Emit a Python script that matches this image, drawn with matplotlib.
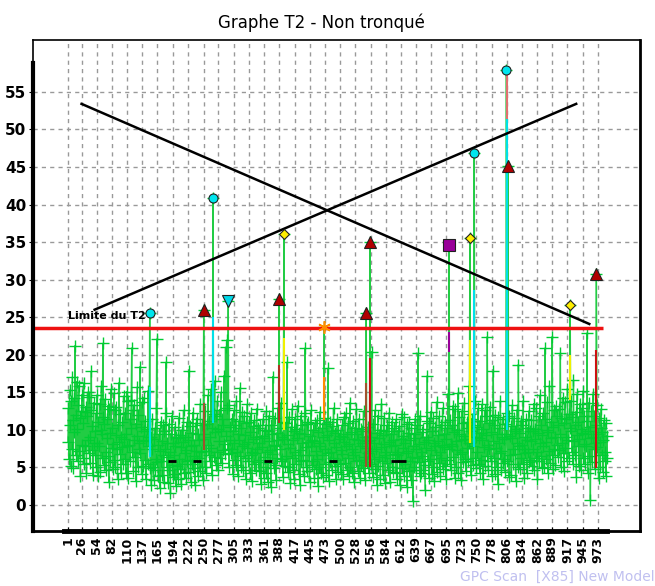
import numpy as np
from matplotlib import pyplot as plt
from matplotlib import font_manager

t2_values = [
    8.4, 12.9, 6.1, 15.3, 10.6, 5.2, 13.8, 7.5, 17.0, 11.3, 4.9, 14.2, 9.7, 21.2, 12.0, 6.6, 16.4, 10.1, 5.8, 13.3, 15.9, 7.2, 11.6, 3.8, 12.5, 8.0, 14.7, 6.3, 10.9, 16.2, 5.5, 12.4, 7.9, 13.1, 4.2, 11.8, 15.0, 8.6, 6.9, 14.4, 9.1, 5.6, 12.7, 17.8, 7.3, 10.5, 4.0, 13.6, 8.2, 9.9,
    6.7, 12.2, 5.0, 14.6, 8.3, 3.9, 11.1, 7.8, 13.5, 4.4, 10.0, 15.8, 6.2, 9.4, 21.5, 11.7, 5.3, 10.8, 14.1, 7.0, 4.6, 11.4, 8.9, 13.2, 6.5, 3.1, 12.8, 9.6, 5.7, 15.4, 7.6, 10.3, 4.8, 8.1, 14.9, 6.0, 12.6, 5.1, 9.3, 13.0, 7.4, 3.5, 10.7, 8.4, 16.3, 6.8, 12.1, 4.3, 9.0, 7.7,
    11.0, 5.4, 14.5, 8.8, 6.1, 12.3, 4.2, 9.5, 15.1, 7.9, 3.6, 13.9, 8.0, 11.4, 5.9, 10.2, 14.0, 20.9, 7.1, 12.6, 4.5, 8.7, 13.3, 6.4, 10.8, 3.2, 9.2, 15.7, 5.0, 12.0, 7.5, 8.3, 18.4, 6.9, 10.4, 4.1, 13.7, 8.5, 5.2, 14.3, 9.8, 6.0, 11.2, 3.4, 8.6, 10.1, 5.5, 15.2, 7.8, 9.0,
    6.3, 4.9, 9.1, 2.6, 7.4, 11.5, 5.0, 3.3, 8.8, 10.2, 4.6, 6.1, 12.9, 22.1, 5.7, 8.0, 3.9, 9.4, 7.2, 2.3, 11.1, 5.8, 8.5, 4.0, 10.6, 6.7, 3.0, 9.9, 7.5, 12.2, 19.0, 5.1, 8.3, 2.9, 6.4, 10.8, 4.7, 7.0, 1.6, 9.5, 5.3, 11.9, 3.7, 8.2, 6.6, 4.1, 10.4, 7.9, 2.5, 9.0,
    5.2, 8.9, 3.4, 11.6, 6.1, 4.8, 9.3, 7.7, 2.8, 10.0, 5.5, 8.4, 12.6, 4.2, 6.9, 9.1, 3.6, 7.3, 11.0, 5.9, 8.7, 4.4, 17.9, 6.0, 10.5, 3.1, 7.8, 9.6, 5.4, 12.3, 4.9, 8.0, 6.5, 2.7, 10.9, 7.2, 5.8, 11.4, 3.9, 9.4, 6.3, 8.6, 4.5, 13.5, 7.0, 5.1, 10.7, 3.3, 8.8, 6.2,
    9.4, 5.1, 12.5, 7.2, 4.3, 10.8, 8.0, 14.6, 6.7, 11.2, 5.9, 9.0, 15.4, 7.6, 4.0, 10.3, 8.9, 12.1, 6.4, 16.5, 9.7, 5.3, 11.9, 7.0, 13.8, 4.6, 10.1, 8.5, 12.7, 6.2, 9.8, 15.0, 5.6, 11.4, 7.3, 10.6, 17.2, 8.1, 6.8, 21.0, 9.2, 12.9, 22.0, 7.5, 11.7, 5.0, 13.3, 8.7, 10.4, 6.9,
    11.5, 7.4, 9.9, 4.1, 12.6, 8.2, 6.0, 10.7, 5.3, 13.9, 7.1, 9.5, 3.8, 11.2, 8.6, 6.5, 15.6, 5.0, 10.3, 7.8, 12.4, 4.7, 8.1, 11.8, 6.2, 9.3, 3.5, 10.9, 7.6, 13.4, 5.8, 8.4, 11.0, 4.3, 9.7, 6.6, 12.2, 7.0, 3.2, 10.5, 8.8, 5.4, 11.3, 6.9, 9.1, 4.6, 12.8, 7.5, 10.2, 5.7,
    8.3, 4.5, 10.6, 6.0, 2.8, 9.2, 7.7, 11.4, 5.1, 3.6, 8.9, 10.0, 6.4, 4.2, 12.5, 7.1, 9.8, 3.0, 8.5, 11.9, 5.6, 7.3, 2.4, 10.7, 6.8, 9.4, 17.1, 4.9, 8.0, 11.6, 5.3, 7.9, 3.3, 9.6, 6.2, 12.9, 8.7, 4.0, 10.3, 7.5, 5.8, 13.6, 6.1, 9.0, 3.7, 11.1, 7.4, 8.8, 5.2, 10.9,
    6.5, 9.3, 19.0, 4.4, 8.1, 11.7, 5.0, 7.6, 2.9, 10.4, 6.3, 12.8, 8.6, 4.7, 9.9, 3.4, 11.5, 7.0, 5.5, 10.1, 8.9, 13.2, 6.7, 4.1, 9.6, 7.3, 2.6, 11.9, 5.8, 8.2, 10.6, 6.0, 3.9, 9.4, 12.3, 20.9, 7.7, 5.1, 10.8, 4.5, 8.4, 11.0, 6.6, 3.1, 9.2, 7.9, 12.6, 5.3, 8.7, 10.0,
    5.9, 8.5, 3.6, 10.9, 7.2, 4.8, 11.3, 6.1, 9.7, 2.5, 8.3, 5.0, 12.4, 7.8, 4.3, 10.2, 6.6, 9.1, 3.7, 11.6, 8.0, 5.4, 7.5, 10.8, 4.0, 9.3, 6.9, 18.2, 8.6, 3.2, 11.1, 5.7, 9.8, 7.1, 4.6, 10.5, 6.3, 12.9, 8.2, 5.2, 9.6, 3.4, 7.7, 11.4, 6.0, 4.4, 10.0, 8.8, 5.5, 9.2,
    7.3, 4.1, 10.6, 6.8, 9.0, 3.5, 11.7, 8.4, 5.6, 12.2, 7.9, 4.7, 9.5, 6.2, 10.9, 3.8, 8.1, 13.6, 5.0, 9.7, 7.4, 4.3, 11.2, 6.6, 8.8, 3.0, 10.3, 7.1, 5.9, 12.8, 9.4, 4.5, 8.6, 6.0, 11.5, 3.6, 7.8, 10.1, 5.3, 9.9, 8.2, 4.9, 12.5, 6.4, 9.1, 3.3, 7.6, 11.8, 5.7, 8.5,
    6.9, 10.4, 4.2, 8.7, 11.3, 5.5, 9.0, 20.4, 7.2, 3.7, 10.8, 6.1, 8.3, 12.6, 4.8, 7.5, 9.6, 2.7, 11.9, 5.2, 8.9, 6.4, 10.0, 3.4, 7.7, 13.5, 5.8, 9.3, 4.0, 8.1, 11.6, 6.7, 2.9, 9.8, 7.0, 5.6, 10.7, 4.6, 8.4, 12.3, 6.2, 3.1, 9.5, 7.9, 11.1, 5.0, 8.6, 4.4, 10.2, 6.8,
    8.0, 4.3, 11.4, 6.6, 3.5, 9.9, 7.1, 5.8, 10.5, 2.6, 8.8, 6.0, 12.1, 4.9, 7.6, 9.2, 3.9, 11.7, 5.4, 8.3, 6.9, 10.8, 2.4, 7.2, 9.6, 4.5, 11.0, 5.9, 8.6, 3.3, 10.3, 6.4, 7.8, 0.5, 9.4, 5.1, 8.9, 11.5, 4.7, 7.4, 10.6, 6.2, 20.2, 5.7, 8.1, 3.8, 11.9, 7.0, 4.2, 9.7,
    6.5, 10.1, 4.6, 8.4, 5.3, 2.0, 9.0, 7.6, 11.2, 17.2, 5.9, 8.7, 3.6, 10.9, 6.1, 12.4, 7.3, 4.1, 9.8, 5.0, 11.6, 8.2, 3.2, 7.9, 10.4, 6.7, 13.7, 4.4, 8.5, 9.3, 5.6, 11.8, 7.0, 3.9, 10.7, 6.3, 8.0, 12.9, 4.8, 9.5, 7.7, 5.2, 11.1, 3.5, 8.8, 10.2, 6.0, 14.8, 7.4, 9.1,
    5.4, 11.3, 8.1, 4.7, 10.6, 7.9, 13.2, 6.4, 9.7, 3.6, 12.8, 8.5, 5.1, 10.0, 7.3, 14.9, 4.2, 9.4, 11.7, 6.8, 8.6, 3.3, 12.5, 7.0, 10.9, 5.7, 9.2, 13.6, 6.1, 8.8, 4.5, 11.0, 7.6, 10.3, 5.9, 15.8, 8.2, 6.6, 12.1, 4.0, 9.9, 11.5, 7.8, 5.3, 10.7, 8.4, 13.9, 6.2, 9.0, 4.9,
    10.4, 7.1, 12.9, 5.5, 8.9, 11.2, 4.3, 9.6, 6.0, 13.4, 8.7, 3.4, 10.1, 7.7, 12.6, 5.2, 9.3, 11.8, 6.5, 22.4, 8.0, 4.6, 10.9, 7.4, 13.1, 5.8, 9.7, 3.9, 11.3, 8.5, 17.8, 6.2, 10.6, 4.1, 12.0, 7.6, 9.4, 5.0, 11.7, 2.8, 8.3, 10.2, 6.9, 13.8, 7.2, 4.7, 9.1, 11.5, 5.6, 8.8,
    6.1, 10.8, 4.4, 9.5, 7.0, 12.3, 5.9, 8.6, 11.9, 3.7, 9.2, 6.6, 10.5, 4.0, 8.9, 13.3, 7.4, 5.5, 11.6, 6.8, 9.9, 3.2, 10.1, 8.3, 12.7, 5.1, 18.7, 7.8, 9.6, 4.8, 11.2, 6.3, 8.0, 10.7, 5.4, 13.9, 7.5, 3.6, 9.0, 6.9, 11.4, 8.7, 4.2, 10.3, 7.1, 12.5, 5.7, 9.8, 6.0, 8.5,
    11.3, 5.2, 9.9, 7.4, 13.5, 4.6, 10.1, 8.8, 6.3, 12.9, 7.0, 3.5, 9.6, 11.8, 5.9, 8.2, 14.6, 6.5, 10.7, 4.9, 9.3, 12.2, 7.8, 5.0, 11.5, 20.9, 8.4, 6.1, 10.0, 13.7, 4.3, 9.7, 7.2, 15.9, 5.6, 11.1, 8.9, 6.7, 22.4, 10.4, 4.8, 12.6, 7.5, 9.1, 5.3, 13.2, 8.0, 11.9, 6.4, 10.6,
    7.3, 12.8, 9.5, 20.2, 5.1, 11.6, 8.2, 14.3, 6.9, 10.9, 4.5, 13.7, 7.6, 9.0, 11.4, 5.8, 15.5, 8.7, 6.2, 12.1, 10.3, 4.1, 9.8, 13.9, 7.0, 11.7, 5.4, 16.6, 8.5, 10.6, 6.7, 12.4, 3.7, 9.3, 14.8, 7.9, 11.0, 5.2, 8.8, 13.5, 10.1, 4.6, 9.6, 12.9, 6.3, 15.2, 8.1, 11.8, 5.5, 9.4,
    7.8, 11.2, 22.9, 4.3, 9.9, 13.6, 6.5, 10.4, 0.7, 8.9, 12.5, 5.7, 9.1, 14.8, 7.4, 11.9, 4.8, 8.2, 10.7, 6.0, 13.3, 7.7, 9.5, 3.6, 11.6, 8.4, 5.1, 10.2, 12.8, 6.6, 9.7, 4.4, 8.6, 11.3, 7.1, 5.9, 10.9, 3.9, 9.2, 6.3,
]

# points hors limite (indice, valeur, style)
out_idx = [151, 250, 267, 295, 388, 397, 471, 548, 555, 700, 738, 746, 805, 808, 922, 970]
out_val = [25.6, 26.0, 40.9, 27.2, 27.4, 36.1, 23.7, 25.6, 35.0, 34.6, 35.5, 46.9, 57.9, 45.1, 26.6, 30.7]
out_kind = ["rond", "tri", "rond", "trib", "tri", "los", "etoile", "tri", "tri", "carre", "los", "rond", "rond", "tri", "los", "tri"]

# segments colorés superposés (indice, bas, haut, couleur)
seg_idx = [151, 250, 267, 388, 397, 471, 548, 555, 700, 738, 746, 806, 806, 922, 970]
seg_lo = [6.4, 7.3, 10.9, 10.9, 10.0, 11.3, 5.0, 5.0, 20.4, 8.3, 7.7, 10.0, 51.4, 14.0, 4.9]
seg_hi = [15.7, 13.6, 25.0, 18.6, 22.2, 17.0, 16.2, 19.6, 23.0, 22.0, 28.6, 51.4, 57.5, 20.0, 20.6]
seg_col = ["#00e0e8", "#a0522d", "#00e0e8", "#b03020", "#f0f000", "#ff8c00", "#a0522d", "#cc1111",
           "#990099", "#f0f000", "#00e0e8", "#00e0e8", "#e07070", "#f0f000", "#cc1111"]

# petits traits noirs
black_idx = [191, 238, 368, 487, 601, 614]
black_val = [5.9, 5.9, 5.9, 5.9, 5.9, 5.9]

limit_t2 = 23.6
cross_a = ([26, 957], [53.4, 24.1])
cross_b = ([50, 933], [26.0, 53.4])

x_ticks = [1, 26, 54, 82, 110, 137, 165, 194, 222, 250, 277, 305, 333, 361, 388, 417, 445, 473,
           500, 528, 556, 584, 612, 639, 667, 695, 723, 750, 778, 806, 834, 862, 889, 917, 945, 973]
y_ticks = list(range(0, 60, 5))

styles = {
    "rond": dict(marker="o", ms=6.5, mfc="#00e5ee"),
    "tri": dict(marker="^", ms=8.5, mfc="#b00000"),
    "trib": dict(marker="v", ms=8.5, mfc="#00d8e8"),
    "los": dict(marker="D", ms=5.5, mfc="#ffee00"),
    "carre": dict(marker="s", ms=8, mfc="#990099"),
}

names = {f.name for f in font_manager.fontManager.ttflist}
narrow = "Liberation Sans Narrow" if "Liberation Sans Narrow" in names else "DejaVu Sans"


def main() -> None:
    t2 = np.array(t2_values, dtype=float)
    for i, v in zip(out_idx, out_val):
        t2[i - 1] = v
    x = np.arange(1, len(t2) + 1)

    fig = plt.figure(figsize=(6.55, 5.86), dpi=100)
    ax = fig.add_axes([0.0504, 0.0939, 0.9267, 0.8378])
    ax.set_xlim(-63, 1050)
    ax.set_ylim(-3.46, 61.9)

    ax.set_xticks(x_ticks)
    ax.set_xticklabels([str(t) for t in x_ticks], rotation=90, fontweight="bold", fontsize=9)
    ax.set_yticks(y_ticks)
    ax.set_yticklabels([str(t) for t in y_ticks], fontweight="bold", fontsize=11, family=narrow)
    ax.tick_params(axis="x", direction="in", length=3, pad=4)
    ax.tick_params(axis="y", direction="out", length=3, pad=2)
    ax.grid(True, color="#999999", linestyle=(0, (3, 3)), linewidth=1)
    ax.set_axisbelow(True)
    for side in ["left", "top"]:
        ax.spines[side].set_linewidth(1.2)
    for side in ["right", "bottom"]:
        ax.spines[side].set_linewidth(2)

    # série T2
    ax.plot(x, t2, color="#22cc44", linewidth=1, zorder=2)
    ax.plot(x, t2, linestyle="none", marker="+", ms=8, mew=1, color="#00cc33", zorder=3)

    ax.vlines(seg_idx, seg_lo, seg_hi, colors=seg_col, linewidth=1.5, zorder=4)
    ax.plot(black_idx, black_val, linestyle="none", marker="_", ms=6, mew=2, color="black", zorder=4)

    # limite T2
    ax.hlines(limit_t2, -63, 983, color="#ee1111", linewidth=2.5, zorder=5)
    ax.text(2, 25.2, "Limite du T2", fontsize=8, fontweight="bold", family=narrow,
            va="center", ha="left", zorder=6)

    ax.plot(*cross_a, color="black", linewidth=1.8, zorder=5)
    ax.plot(*cross_b, color="black", linewidth=1.8, zorder=5)

    for i, v, k in zip(out_idx, out_val, out_kind):
        if k == "etoile":
            ax.plot(i, v, marker=(6, 2, 0), ms=9, mew=1.2, color="#ff8c00", zorder=7)
        else:
            ax.plot(i, v, linestyle="none", mec="#202020", mew=0.8, zorder=7, **styles[k])

    # axes épais
    ax.plot([0, 0], [-3.46, 58.9], transform=ax.get_yaxis_transform(), color="black",
            linewidth=3, clip_on=False, zorder=8)
    ax.plot([-6, 990], [0, 0], transform=ax.get_xaxis_transform(), color="black",
            linewidth=3.5, clip_on=False, zorder=8)

    fig.text(0.49, 0.962, "Graphe T2 - Non tronqué", ha="center", va="center",
             fontsize=12, family=narrow)
    fig.text(1.0, 0.015, "GPC Scan  [X85] New Model", ha="right", va="center",
             fontsize=10, color="#c0c0f0", family=narrow)

    fig.savefig("out.png", dpi=100)


if __name__ == "__main__":
    main()
